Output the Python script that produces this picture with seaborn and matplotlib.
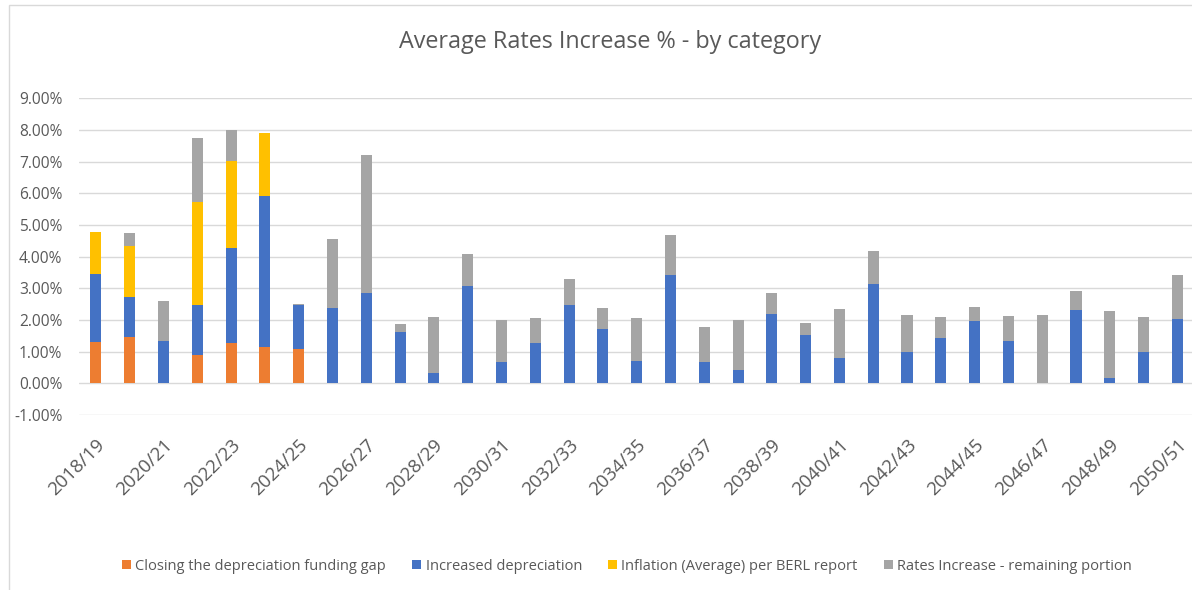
import matplotlib
matplotlib.use("Agg")
import matplotlib.pyplot as plt
import seaborn as sns
import pandas as pd
import numpy as np
from matplotlib.patches import Patch, Rectangle

years = [f"{y}/{(y + 1) % 100:02d}" for y in range(2018, 2051)]

closing_gap = [1.29, 1.47, 0.0, 0.89, 1.26, 1.16, 1.07] + [0.0] * 26
increased_dep = [2.15, 1.27, 1.34, 1.58, 3.00, 4.77, 1.40, 2.39, 2.84, 1.63,
                 0.34, 3.06, 0.66, 1.27, 2.48, 1.73, 0.69, 3.42, 0.66, 0.43,
                 2.18, 1.52, 0.79, 3.14, 0.99, 1.43, 1.96, 1.34, 0.0, 2.32,
                 0.17, 0.99, 2.04]
inflation = [1.35, 1.61, 0.0, 3.25, 2.77, 1.99, 0.0] + [0.0] * 26
remaining = [0.0, 0.41, 1.26, 2.04, 0.97, 0.0, 0.05, 2.17, 4.37, 0.23,
             1.77, 1.01, 1.34, 0.80, 0.81, 0.66, 1.37, 1.26, 1.12, 1.57,
             0.67, 0.40, 1.57, 1.04, 1.17, 0.68, 0.46, 0.78, 2.16, 0.61,
             2.10, 1.10, 1.38]

series_names = ["Closing the depreciation funding gap", "Increased depreciation",
                "Inflation (Average) per BERL report", "Rates Increase - remaining portion"]
series_vals = [closing_gap, increased_dep, inflation, remaining]
colors = ["#ED7D31", "#4472C4", "#FFC000", "#A5A5A5"]

sns.set_theme(style="white")
plt.rcParams["font.family"] = ["Open Sans", "DejaVu Sans"]
text_color = "#595959"

fig = plt.figure(figsize=(11.92, 5.9), dpi=100)
ax = fig.add_axes([79 / 1192, 175 / 590, 1113 / 1192, 316.7 / 590])

bottom = np.zeros(len(years))
for name, vals, col in zip(series_names, series_vals, colors):
    df = pd.DataFrame({"year": years, "value": vals})
    sns.barplot(data=df, x="year", y="value", order=years, color=col,
                width=0.33, errorbar=None, bottom=bottom.copy(), ax=ax,
                linewidth=0, saturation=1)
    bottom += np.array(vals)

ax.set_ylim(-1, 9)
ax.set_xlim(-0.5, 32.43)
ax.set_yticks(np.arange(-1, 10, 1))
ax.set_yticklabels([f"{v:.2f}%" for v in np.arange(-1, 10, 1)], color=text_color, fontsize=11.2)
ax.yaxis.grid(True, color="#D9D9D9", linewidth=1)
ax.set_axisbelow(True)
for s in ax.spines.values():
    s.set_visible(False)
ax.tick_params(axis="y", length=0, pad=12)
ax.set_xticks(range(0, len(years), 2))
ax.set_xticklabels(years[::2], rotation=45, ha="right", va="top",
                   rotation_mode="anchor", color=text_color, fontsize=13.5)
ax.tick_params(axis="x", length=0, pad=15)
ax.set_xlabel("")
ax.set_ylabel("")

fig.text(0.512, 0.928, "Average Rates Increase % - by category", ha="center", va="center",
         fontsize=16.8, color=text_color)

handles = [Patch(facecolor=c, edgecolor="none", label=n) for n, c in zip(series_names, colors)]
fig.legend(handles=handles, loc="center", bbox_to_anchor=(0.526, 0.04), ncol=4,
           frameon=False, fontsize=10.5, handlelength=0.6, handleheight=0.6,
           handletextpad=0.3, columnspacing=1.8, labelcolor=text_color)

fig.patches.append(Rectangle((9 / 1192, -0.1), 1.2, 1.1 - 5 / 590, transform=fig.transFigure,
                             fill=False, edgecolor="#D9D9D9", linewidth=1))

fig.savefig("out.png", dpi=100, facecolor="white")
